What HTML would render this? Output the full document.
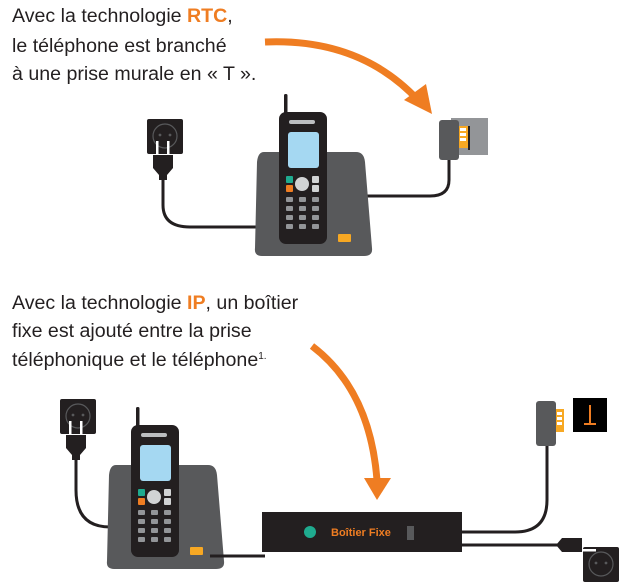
<!DOCTYPE html>
<html><head><meta charset="utf-8"><style>
body{margin:0;background:#fff;width:624px;height:582px;overflow:hidden}
svg{display:block}
text{font-family:"Liberation Sans",Arial,sans-serif}
</style></head><body>
<svg width="624" height="582" viewBox="0 0 624 582" xmlns="http://www.w3.org/2000/svg">
<defs>
<g id="phone">
  <path d="M8 0 H100 Q108 0 109 10 L116 96 Q117 104 108 104 H6 Q-2 104 -1 96 L1 10 Q2 0 8 0Z" fill="#58595b"/>
  <rect x="82" y="82" width="13" height="8" rx="1" fill="#f7a823"/>
  <rect x="28" y="-58" width="3.5" height="22" rx="1.5" fill="#231f20"/>
  <rect x="23" y="-40" width="48" height="132" rx="7" fill="#231f20"/>
  <rect x="33" y="-32" width="26" height="4" rx="2" fill="#bcbec0"/>
  <rect x="32" y="-20" width="31" height="36" rx="3" fill="#a5d8f2"/>
  <rect x="30" y="24" width="7" height="7" rx="1" fill="#1fab8f"/>
  <rect x="30" y="33" width="7" height="7" rx="1" fill="#ef7d22"/>
  <circle cx="46" cy="32" r="7" fill="#d1d3d4"/>
  <rect x="56" y="24" width="7" height="7" rx="1" fill="#d1d3d4"/>
  <rect x="56" y="33" width="7" height="7" rx="1" fill="#d1d3d4"/>
  <g fill="#939598">
    <rect x="30" y="45" width="7" height="5" rx="1"/><rect x="43" y="45" width="7" height="5" rx="1"/><rect x="56" y="45" width="7" height="5" rx="1"/>
    <rect x="30" y="54" width="7" height="5" rx="1"/><rect x="43" y="54" width="7" height="5" rx="1"/><rect x="56" y="54" width="7" height="5" rx="1"/>
    <rect x="30" y="63" width="7" height="5" rx="1"/><rect x="43" y="63" width="7" height="5" rx="1"/><rect x="56" y="63" width="7" height="5" rx="1"/>
    <rect x="30" y="72" width="7" height="5" rx="1"/><rect x="43" y="72" width="7" height="5" rx="1"/><rect x="56" y="72" width="7" height="5" rx="1"/>
  </g>
</g>
<g id="socket">
  <rect x="0" y="0" width="36" height="35" rx="2" fill="#231f20"/>
  <circle cx="18" cy="17" r="12" fill="none" stroke="#58595b" stroke-width="1.2"/>
  <circle cx="13" cy="16" r="1.4" fill="#58595b"/><circle cx="23" cy="16" r="1.4" fill="#58595b"/>
</g>
</defs>

<text x="12" y="22" font-size="19.6" fill="#231f20">Avec la technologie <tspan fill="#ef7d22" font-weight="bold">RTC</tspan>,</text>
<text x="12" y="52" font-size="19.6" fill="#231f20">le téléphone est branché</text>
<text x="12" y="80" font-size="19.6" fill="#231f20">à une prise murale en « T ».</text>

<path d="M265 42 Q360 38 418 100" fill="none" stroke="#ef7d22" stroke-width="7"/>
<polygon points="404,100 432,114 426,84" fill="#ef7d22"/>

<use href="#socket" x="147" y="119"/>
<rect x="156" y="141" width="2.5" height="14" fill="#fff"/><rect x="167" y="141" width="2.5" height="14" fill="#fff"/>
<path d="M153 155 H173 V168 L167 175 V180 H159 V175 L153 168Z" fill="#231f20"/>
<path d="M163 180 V205 Q163 227 190 227 H262" fill="none" stroke="#231f20" stroke-width="3"/>
<rect x="451" y="118" width="37" height="37" fill="#939598"/>
<rect x="439" y="120" width="20" height="40" rx="3" fill="#58595b"/>
<rect x="459" y="126" width="9" height="22" fill="#f7a823"/>
<g fill="#fff"><rect x="460" y="128" width="6" height="3"/><rect x="460" y="133" width="6" height="3"/><rect x="460" y="138" width="6" height="3"/></g>
<rect x="468" y="126" width="2" height="24" fill="#231f20"/>
<path d="M449 160 V180 Q449 196 430 196 H360" fill="none" stroke="#231f20" stroke-width="3"/>
<use href="#phone" x="256" y="152"/>

<text x="12" y="309" font-size="19.6" fill="#231f20">Avec la technologie <tspan fill="#ef7d22" font-weight="bold">IP</tspan>, un boîtier</text>
<text x="12" y="337" font-size="19.6" fill="#231f20">fixe est ajouté entre la prise</text>
<text x="12" y="366" font-size="19.6" fill="#231f20">téléphonique et le téléphone<tspan font-size="10" dy="-7">1.</tspan></text>

<path d="M312 346 Q370 390 377 480" fill="none" stroke="#ef7d22" stroke-width="7"/>
<polygon points="364,478 391,478 377,500" fill="#ef7d22"/>

<use href="#socket" x="60" y="399"/>
<rect x="69" y="421" width="2.5" height="14" fill="#fff"/><rect x="80" y="421" width="2.5" height="14" fill="#fff"/>
<path d="M66 435 H86 V448 L80 455 V460 H72 V455 L66 448Z" fill="#231f20"/>
<path d="M76 460 V490 Q76 527 110 527" fill="none" stroke="#231f20" stroke-width="3"/>
<use href="#phone" x="108" y="465"/>
<path d="M210 556 H265" stroke="#231f20" stroke-width="3"/>
<rect x="262" y="512" width="200" height="40" fill="#231f20"/>
<circle cx="310" cy="532" r="6" fill="#1fab8f"/>
<text x="331" y="536" font-size="11" fill="#ef7d22" font-weight="bold">Boîtier Fixe</text>
<rect x="407" y="526" width="7" height="14" fill="#58595b"/>
<path d="M460 532 H515 Q547 532 547 500 V445" fill="none" stroke="#231f20" stroke-width="3"/>
<path d="M460 545 H560" stroke="#231f20" stroke-width="3"/>
<rect x="536" y="401" width="20" height="45" rx="3" fill="#58595b"/>
<rect x="556" y="409" width="8" height="23" fill="#f7a823"/>
<g fill="#fff"><rect x="557" y="412" width="5" height="3"/><rect x="557" y="417" width="5" height="3"/><rect x="557" y="422" width="5" height="3"/></g>
<rect x="573" y="398" width="34" height="34" fill="#000"/>
<rect x="589" y="405" width="2" height="19" fill="#ef7d22"/><rect x="584" y="423" width="12" height="2" fill="#ef7d22"/>
<path d="M556 545 L562 538 H582 V552 H562Z" fill="#231f20"/>
<use href="#socket" x="583" y="547"/>
<rect x="582" y="540" width="14" height="2.5" fill="#fff"/><rect x="582" y="549" width="14" height="2.5" fill="#fff"/>
</svg>
</body></html>
